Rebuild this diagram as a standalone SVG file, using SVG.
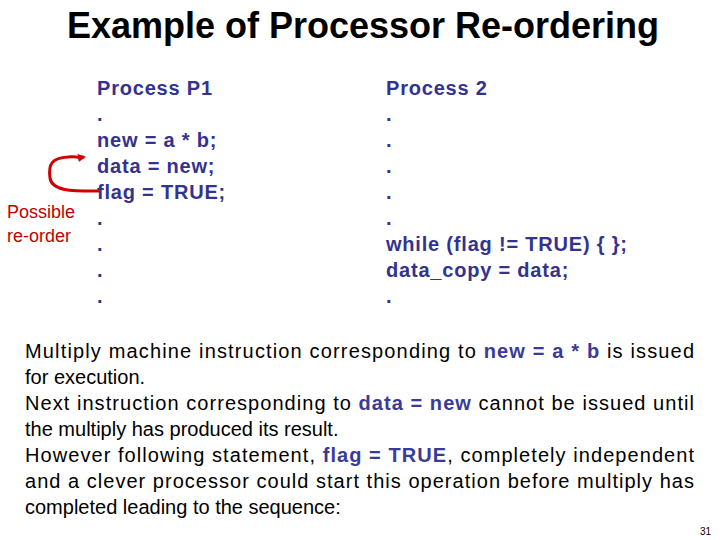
<svg xmlns="http://www.w3.org/2000/svg" width="720" height="540" viewBox="0 0 720 540">
<style>
text{font-family:"Liberation Sans",Arial,sans-serif}
.t{font-size:36px;font-weight:bold;fill:#000}
.c{font-size:20px;font-weight:bold;fill:#33338f;letter-spacing:0.8px}
.b{font-size:20px;fill:#000}
.h{fill:#3a3a99;font-weight:bold}
.r{font-size:18px;fill:#c00000}
</style>
<defs><marker id="ah" markerWidth="8" markerHeight="8" refX="6" refY="4" orient="auto" markerUnits="userSpaceOnUse"><path d="M0,0 L8,4 L0,8 Z" fill="#d00000"/></marker></defs>
<rect width="720" height="540" fill="#fff"/>
<text class="t" x="363" y="38" text-anchor="middle">Example of Processor Re-ordering</text>
<g id="p1">
<text class="c" x="97" y="95">Process P1</text>
<text class="c" x="97" y="121">.</text>
<text class="c" x="97" y="147">new = a * b;</text>
<text class="c" x="97" y="173">data = new;</text>
<text class="c" x="97" y="199">flag = TRUE;</text>
<text class="c" x="97" y="225">.</text>
<text class="c" x="97" y="251">.</text>
<text class="c" x="97" y="277">.</text>
<text class="c" x="97" y="303">.</text>
</g>
<g id="p2">
<text class="c" x="386" y="95">Process 2</text>
<text class="c" x="386" y="121">.</text>
<text class="c" x="386" y="147">.</text>
<text class="c" x="386" y="173">.</text>
<text class="c" x="386" y="199">.</text>
<text class="c" x="386" y="225">.</text>
<text class="c" x="386" y="251">while (flag != TRUE) { };</text>
<text class="c" x="386" y="277">data_copy = data;</text>
<text class="c" x="386" y="303">.</text>
</g>
<g id="reorder">
<text class="r" x="7" y="218">Possible</text>
<text class="r" x="7" y="242">re-order</text>
</g>
<g id="connectors">
<path d="M100,191 C75,191 52,192 50,178 C48,164 52,158 68,157 C75,156 78,158 84,157" fill="none" stroke="#d00000" stroke-width="3" marker-end="url(#ah)"/>
</g>
<g id="body">
<text class="b" x="25" y="358" textLength="669" lengthAdjust="spacing">Multiply machine instruction corresponding to <tspan class="h">new = a * b</tspan> is issued</text>
<text class="b" x="25" y="384">for execution.</text>
<text class="b" x="25" y="410" textLength="669" lengthAdjust="spacing">Next instruction corresponding to <tspan class="h">data = new</tspan> cannot be issued until</text>
<text class="b" x="25" y="436">the multiply has produced its result.</text>
<text class="b" x="25" y="462" textLength="669" lengthAdjust="spacing">However following statement, <tspan class="h">flag = TRUE</tspan>, completely independent</text>
<text class="b" x="25" y="488" textLength="669" lengthAdjust="spacing">and a clever processor could start this operation before multiply has</text>
<text class="b" x="25" y="514">completed leading to the sequence:</text>
</g>
<text x="711" y="535" font-size="10" text-anchor="end" style="font-family:'Liberation Sans',Arial,sans-serif">31</text>
</svg>
